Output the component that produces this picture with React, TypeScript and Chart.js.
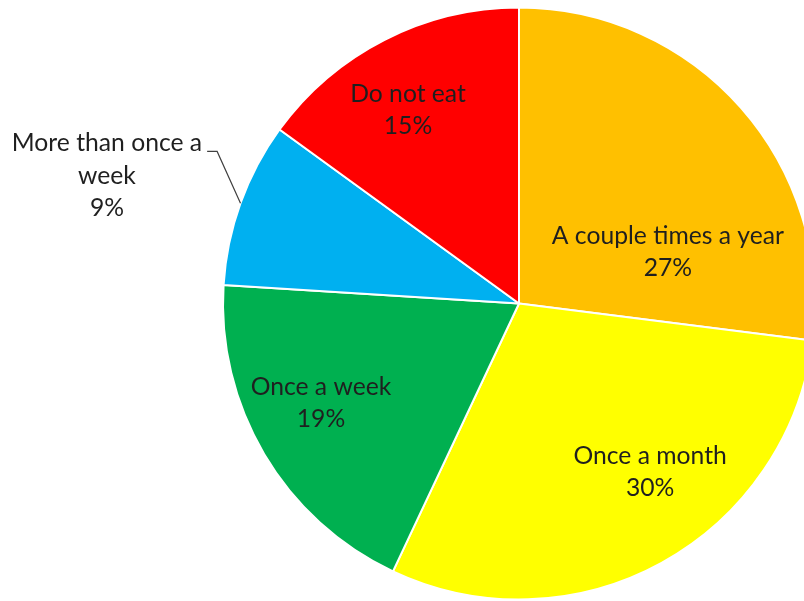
import React, { useEffect, useRef } from "react";
import { Chart, registerables } from "chart.js";

Chart.register(...registerables);

const categories = ["A couple times a year", "Once a month", "Once a week", "More than once a week", "Do not eat"];
const values = [27, 30, 19, 9, 15];
const colors = ["#FFC000", "#FFFF00", "#00B050", "#00B0F0", "#FF0000"];

// label line layout (text lines per slice)
const labelLines = [
  ["A couple times a year", "27%"],
  ["Once a month", "30%"],
  ["Once a week", "19%"],
  ["More than once a", "week", "9%"],
  ["Do not eat", "15%"],
];
// label centers relative to pie center, in units of radius
const labelOffsets: [number, number][] = [
  [0.503, -0.174],
  [0.443, 0.569],
  [-0.669, 0.336],
  [-1.392, -0.431],
  [-0.375, -0.654],
];

const FONT = "24.7px Lato, 'Open Sans', sans-serif";
const LINE_H = 32.5;

const labelPlugin = {
  id: "pieLabels",
  afterDatasetsDraw(chart: any) {
    const ctx = chart.ctx;
    const meta = chart.getDatasetMeta(0);
    ctx.save();
    ctx.font = FONT;
    ctx.fillStyle = "#1f1f1f";
    ctx.textAlign = "center";
    ctx.textBaseline = "middle";
    meta.data.forEach((arc: any, i: number) => {
      const { x, y, outerRadius, startAngle, endAngle } = arc.getProps(["x", "y", "outerRadius", "startAngle", "endAngle"], true);
      const lines = labelLines[i];
      const cx = x + labelOffsets[i][0] * outerRadius;
      const cy = y + labelOffsets[i][1] * outerRadius;
      const top = cy - ((lines.length - 1) * LINE_H) / 2;
      lines.forEach((t, k) => ctx.fillText(t, cx, top + k * LINE_H));
      if (i === 3) {
        const mid = (startAngle + endAngle) / 2;
        const ex = x + Math.cos(mid) * outerRadius;
        const ey = y + Math.sin(mid) * outerRadius;
        const w = ctx.measureText(lines[0]).width;
        const tx = cx + w / 2 + 5;
        const ty = top + 8;
        ctx.strokeStyle = "#404040";
        ctx.lineWidth = 1.2;
        ctx.beginPath();
        ctx.moveTo(tx, ty);
        ctx.lineTo(tx + 10, ty);
        ctx.lineTo(ex, ey);
        ctx.stroke();
      }
    });
    ctx.restore();
  },
};

export default function App() {
  const ref = useRef<HTMLCanvasElement>(null);
  useEffect(() => {
    if (!ref.current) return;
    const chart = new Chart(ref.current, {
      type: "pie",
      data: {
        labels: categories,
        datasets: [
          {
            data: values,
            backgroundColor: colors,
            borderColor: "#ffffff",
            borderWidth: 2,
            radius: 296,
          } as any,
        ],
      },
      options: {
        animation: false,
        responsive: false,
        layout: { padding: { left: 234, right: 0, top: 6, bottom: 0 } },
        plugins: { legend: { display: false }, tooltip: { enabled: false } },
      },
      plugins: [labelPlugin],
    });
    return () => chart.destroy();
  }, []);
  return (
    <div style={{ position: "fixed", left: 0, top: 0, width: 804, height: 601, overflow: "hidden", background: "#fff" }}>
      <canvas ref={ref} width={804} height={601} style={{ display: "block", width: 804, height: 601 }} />
    </div>
  );
}
